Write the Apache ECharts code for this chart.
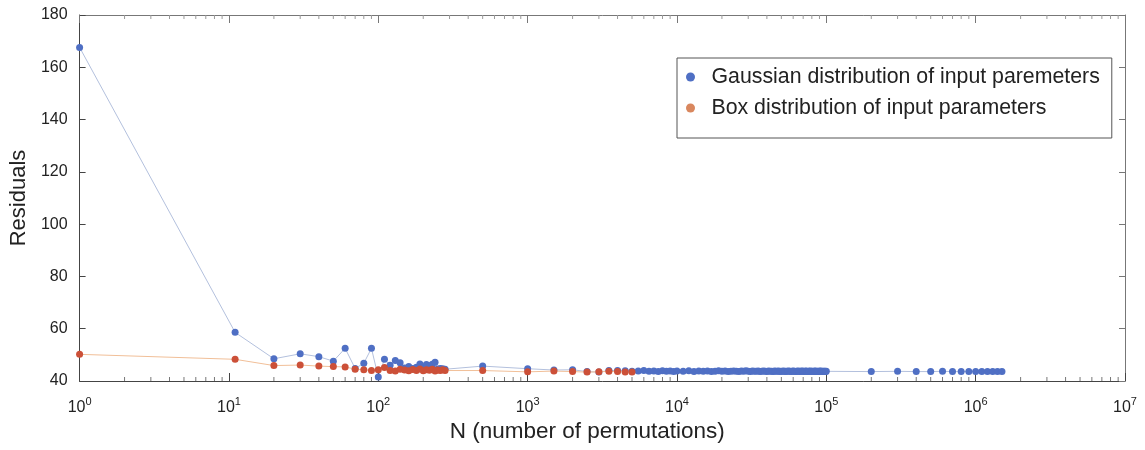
<!DOCTYPE html>
<html>
<head>
<meta charset="utf-8">
<script src="https://cdn.jsdelivr.net/npm/echarts@6/dist/echarts.min.js"></script>
<style>html,body{margin:0;padding:0;background:#fff;}#c{width:1145px;height:450px;}</style>
</head>
<body>
<div id="c"></div>
<script>
// ---- data ----
const seriesNames = ['Gaussian distribution of input paremeters', 'Box distribution of input parameters'];

const gaussN_low = [1, 11, 20, 30, 40, 50, 60, 70, 80, 90,
  100, 110, 120, 130, 140, 150, 160, 170, 180, 190, 200, 210, 220, 230, 240, 250, 260, 270, 280,
  500, 1000, 1500, 2000, 2500, 3000, 3500, 4000];
const gaussR_low = [167.6, 58.6, 48.5, 50.4, 49.3, 47.6, 52.5, 44.8, 46.8, 52.5,
  41.5, 48.3, 46.0, 47.8, 47.0, 45.0, 45.5, 44.8, 45.3, 46.5, 45.0, 46.3, 45.8, 46.4, 47.2, 44.6, 44.8, 44.7, 44.5,
  45.7, 44.7, 44.2, 44.3, 43.6, 43.4, 44.0, 44.0];

const gaussN_band = [4500, 5000, 5500, 6000, 6500, 7000, 7500, 8000, 8500, 9000, 9500, 10000,
  11000, 12000, 13000, 14000, 15000, 16000, 17000, 18000, 19000, 20000,
  21000, 22000, 23000, 24000, 25000, 26000, 27000, 28000, 29000, 30000,
  31000, 32000, 33000, 34000, 35000, 36000, 37000, 38000, 39000, 40000,
  41000, 42000, 43000, 44000, 45000, 46000, 47000, 48000, 49000, 50000,
  51000, 52000, 53000, 54000, 55000, 56000, 57000, 58000, 59000, 60000,
  61000, 62000, 63000, 64000, 65000, 66000, 67000, 68000, 69000, 70000,
  71000, 72000, 73000, 74000, 75000, 76000, 77000, 78000, 79000, 80000,
  81000, 82000, 83000, 84000, 85000, 86000, 87000, 88000, 89000, 90000,
  91000, 92000, 93000, 94000, 95000, 96000, 97000, 98000, 99000, 100000];
const gaussR_band = [43.9, 43.7, 43.8, 44.0, 43.7, 43.8, 43.6, 43.9, 43.7, 43.8, 43.6, 43.8,
  43.7, 43.9, 43.6, 43.8, 43.7, 43.8, 43.6, 43.7, 43.9, 43.7,
  43.8, 43.6, 43.7, 43.8, 43.7, 43.6, 43.8, 43.7, 43.9, 43.7,
  43.6, 43.8, 43.7, 43.7, 43.8, 43.6, 43.7, 43.8, 43.7, 43.6,
  43.8, 43.7, 43.7, 43.6, 43.8, 43.7, 43.7, 43.8, 43.6, 43.7,
  43.7, 43.8, 43.6, 43.7, 43.7, 43.8, 43.7, 43.6, 43.7, 43.8,
  43.7, 43.6, 43.7, 43.7, 43.8, 43.6, 43.7, 43.7, 43.8, 43.7,
  43.6, 43.7, 43.8, 43.7, 43.6, 43.7, 43.7, 43.8, 43.6, 43.7,
  43.7, 43.6, 43.7, 43.8, 43.7, 43.6, 43.7, 43.7, 43.6, 43.7,
  43.8, 43.7, 43.6, 43.7, 43.7, 43.6, 43.7, 43.7, 43.6, 43.7];

const gaussN_tail = [200000, 300000, 400000, 500000, 600000, 700000, 800000, 900000,
  1000000, 1100000, 1200000, 1300000, 1400000, 1500000];
const gaussR_tail = [43.6, 43.7, 43.6, 43.6, 43.7, 43.6, 43.6, 43.6, 43.6, 43.6, 43.6, 43.6, 43.6, 43.6];

const boxN = [1, 11, 20, 30, 40, 50, 60, 70, 80, 90,
  100, 110, 120, 130, 140, 150, 160, 170, 180, 190, 200, 210, 220, 230, 240, 250, 260, 270, 280,
  500, 1000, 1500, 2000, 2500, 3000, 3500, 4000, 4500, 5000];
const boxR = [50.2, 48.3, 45.9, 46.1, 45.7, 45.5, 45.4, 44.5, 44.3, 44.0,
  44.3, 45.2, 44.0, 43.8, 44.5, 44.2, 43.9, 44.4, 44.0, 44.6, 43.9, 44.3, 44.1, 44.5, 43.8, 44.2, 44.0, 44.3, 44.0,
  44.0, 43.5, 43.8, 43.6, 43.4, 43.5, 43.7, 43.6, 43.4, 43.4];

const yTicks = [40, 60, 80, 100, 120, 140, 160, 180];
const decades = [1, 10, 100, 1000, 10000, 100000, 1000000];
const minorMultipliers = [2, 3, 4, 5, 6, 7, 8, 9];

// ---- build ----
const gaussN = gaussN_low.concat(gaussN_band, gaussN_tail);
const gaussR = gaussR_low.concat(gaussR_band, gaussR_tail);
const gaussData = gaussN.map((n, i) => [n, gaussR[i]]);
const boxData = boxN.map((n, i) => [n, boxR[i]]);
const minorTicks = [];
decades.forEach(d => minorMultipliers.forEach(m => minorTicks.push([d * m, 40])));

const FONT = '"Liberation Sans", Arial, sans-serif';
const axisCol = '#444';

const chart = echarts.init(document.getElementById('c'), null, { renderer: 'canvas' });
chart.setOption({
  backgroundColor: '#fff',
  animation: false,
  textStyle: { fontFamily: FONT },
  grid: { left: 79, right: 20, top: 15, bottom: 69, containLabel: false },
  legend: {
    orient: 'vertical',
    left: 677, top: 58,
    padding: [8, 12, 19, 9],
    backgroundColor: '#fff',
    borderColor: '#555', borderWidth: 1,
    itemWidth: 16, itemHeight: 9, itemGap: 9,
    icon: 'circle',
    textStyle: { fontFamily: FONT, fontSize: 21.3, color: '#222', lineHeight: 22, padding: [0, 0, 0, 8] },
    data: [
      { name: seriesNames[0], itemStyle: { color: '#4f6fc4' } },
      { name: seriesNames[1], itemStyle: { color: '#d9875e' } }
    ]
  },
  xAxis: [{
    type: 'log', logBase: 10, min: 1, max: 10000000,
    position: 'bottom',
    name: 'N (number of permutations)', nameLocation: 'middle', nameGap: 37,
    nameTextStyle: { fontFamily: FONT, fontSize: 22.5, color: '#222', padding: [0, 30, 0, 0] },
    axisLine: { show: true, lineStyle: { color: axisCol, width: 1 } },
    axisTick: { show: true, inside: true, length: 8, lineStyle: { color: axisCol } },
    splitLine: { show: false },
    axisLabel: {
      margin: 15, color: '#222',
      formatter: v => '{b|10}{s|' + Math.round(Math.log10(v)) + '}',
      rich: {
        b: { fontFamily: FONT, fontSize: 16, color: '#222' },
        s: { fontFamily: FONT, fontSize: 11, color: '#222', padding: [0, 0, 12, 0] }
      }
    }
  }, {
    type: 'log', logBase: 10, min: 1, max: 10000000,
    position: 'top',
    axisLine: { show: true, lineStyle: { color: '#777', width: 1 } },
    axisTick: { show: true, inside: true, length: 8, lineStyle: { color: '#777' } },
    axisLabel: { show: false },
    splitLine: { show: false }
  }],
  yAxis: [{
    type: 'value', min: 40, max: 180, interval: 20,
    name: 'Residuals', nameLocation: 'middle', nameGap: 48,
    nameTextStyle: { fontFamily: FONT, fontSize: 22, color: '#222' },
    axisLine: { show: true, lineStyle: { color: axisCol, width: 1 } },
    axisTick: { show: true, inside: true, length: 6, lineStyle: { color: axisCol } },
    axisLabel: { margin: 12, fontFamily: FONT, fontSize: 16, color: '#222' },
    splitLine: { show: false }
  }, {
    type: 'value', min: 40, max: 180, interval: 20,
    position: 'right',
    axisLine: { show: true, lineStyle: { color: '#777', width: 1 } },
    axisTick: { show: true, inside: true, length: 6, lineStyle: { color: '#777' } },
    axisLabel: { show: false },
    splitLine: { show: false }
  }],
  series: [{
    name: seriesNames[0],
    type: 'line',
    data: gaussData,
    symbol: 'circle', symbolSize: 7,
    itemStyle: { color: '#4f6fc4' },
    lineStyle: { color: '#b3c0dd', width: 1 },
    z: 3
  }, {
    name: seriesNames[1],
    type: 'line',
    data: boxData,
    symbol: 'circle', symbolSize: 7,
    itemStyle: { color: '#cc5038' },
    lineStyle: { color: '#f1bf98', width: 1 },
    z: 4
  }, {
    type: 'custom',
    silent: true,
    data: minorTicks,
    encode: { x: 0, y: 1 },
    z: 2,
    renderItem: function (params, api) {
      const v = api.value(0);
      const b = api.coord([v, 40]);
      const t = api.coord([v, 180]);
      return {
        type: 'group',
        children: [
          { type: 'line', shape: { x1: b[0], y1: b[1], x2: b[0], y2: b[1] - 4 }, style: { stroke: '#777', lineWidth: 1 } },
          { type: 'line', shape: { x1: t[0], y1: t[1], x2: t[0], y2: t[1] + 4 }, style: { stroke: '#999', lineWidth: 1 } }
        ]
      };
    }
  }]
});
</script>
</body>
</html>
